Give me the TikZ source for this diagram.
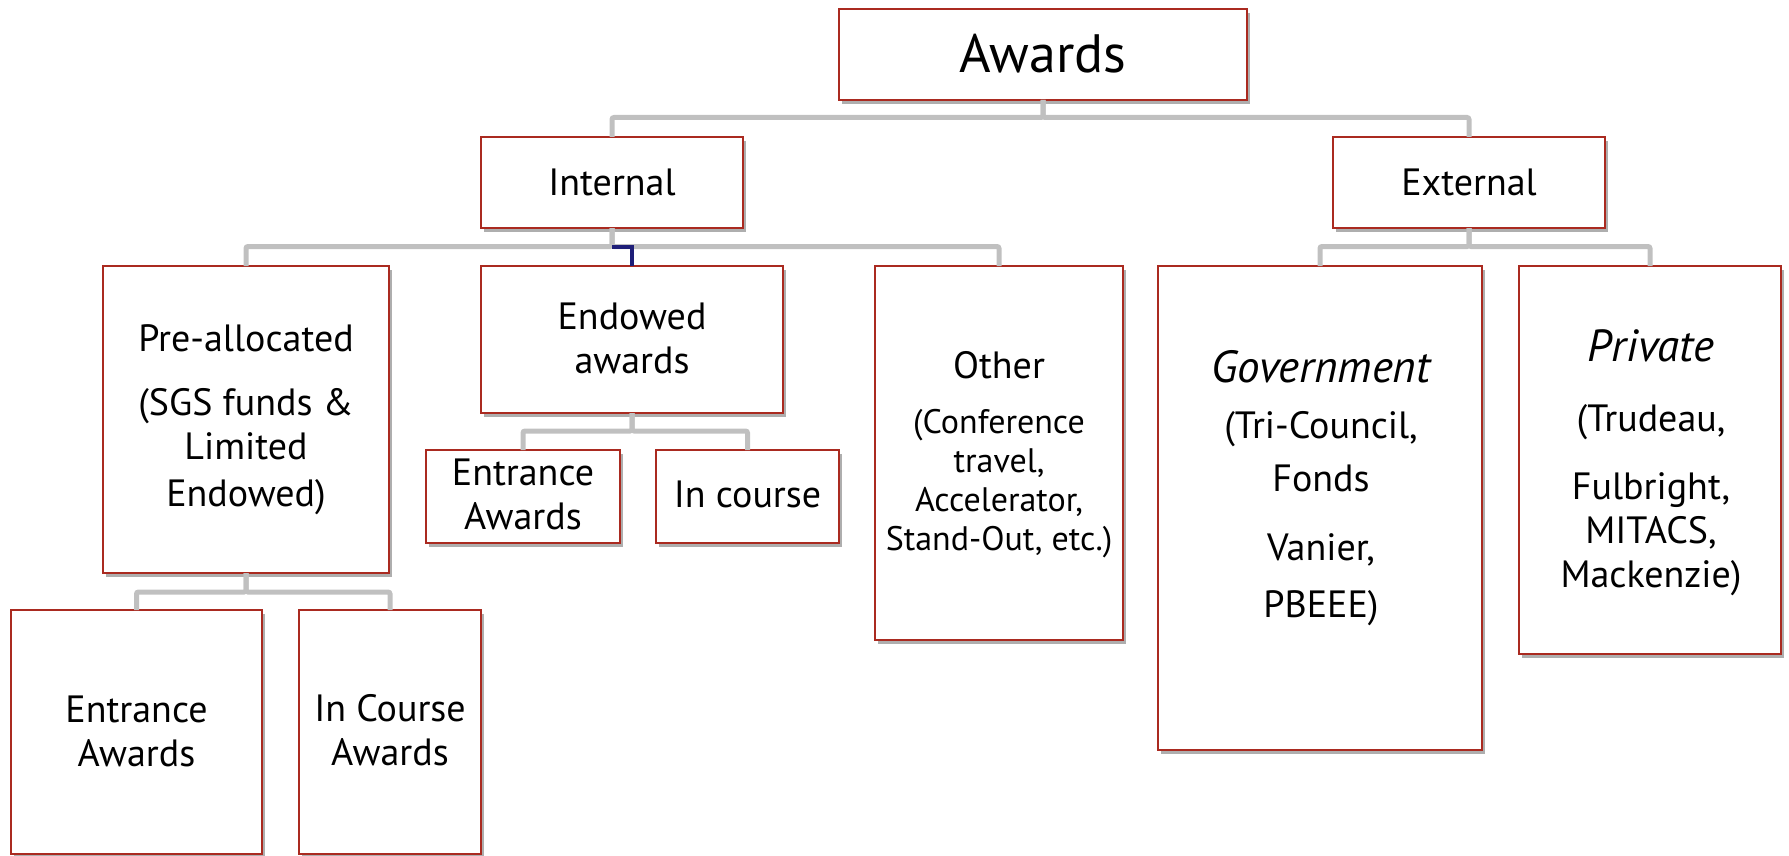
\documentclass[tikz,border=0pt]{standalone}
\usepackage{fontspec}
\setmainfont{PT Sans}
\usetikzlibrary{shadows}
\definecolor{boxred}{RGB}{170,42,32}
\definecolor{conngray}{RGB}{192,192,192}
\definecolor{bracketblue}{RGB}{30,30,120}
\tikzset{
  box/.style={draw=boxred, line width=1.4pt, fill=white, rectangle, inner sep=0pt, outer sep=0pt,
    drop shadow={shadow xshift=1.5pt, shadow yshift=-2pt, opacity=0.45, fill=black!70}},
  txt/.style={align=center, inner sep=0pt, font=\fontsize{19}{22}\selectfont},
  smalltxt/.style={align=center, inner sep=0pt, font=\fontsize{17}{19.5}\selectfont},
  conn/.style={draw=conngray, line width=2.5pt, rounded corners=1pt},
  blueconn/.style={draw=bracketblue, line width=2pt},
}
\newcommand{\ittitle}[1]{{\fontsize{22.5}{22}\selectfont\itshape #1}}
\begin{document}
\begin{tikzpicture}[x=0.5pt,y=-0.5pt]
\useasboundingbox (0,0) rectangle (1789,856);
% bus coordinates
\coordinate (busA) at (0,117.5);
\coordinate (busB) at (0,246.5);
\coordinate (busC) at (0,431);
\coordinate (busD) at (0,592);

% boxes
\node[box, minimum width=204pt, minimum height=45.5pt] (awards) at (1043,54.5) {};
\node[box, minimum width=131pt, minimum height=45.5pt] (internal) at (612,182.5) {};
\node[box, minimum width=136pt, minimum height=45.5pt] (external) at (1469,182.5) {};
\node[box, minimum width=143pt, minimum height=153.5pt] (prealloc) at (246,419.5) {};
\node[box, minimum width=151pt, minimum height=73.5pt] (endowed) at (632,339.5) {};
\node[box, minimum width=124pt, minimum height=187pt] (other) at (999,453) {};
\node[box, minimum width=162pt, minimum height=242pt] (gov) at (1320,508) {};
\node[box, minimum width=131pt, minimum height=194pt] (private) at (1650,460) {};
\node[box, minimum width=97pt, minimum height=46.5pt] (entrA) at (523,496.5) {};
\node[box, minimum width=91.5pt, minimum height=46.5pt] (incA) at (747.5,496.5) {};
\node[box, minimum width=125.5pt, minimum height=122pt] (entrB) at (136.5,732) {};
\node[box, minimum width=91pt, minimum height=122pt] (incB) at (390,732) {};

% connectors
\draw[conn] (awards.south) -- (awards.south |- busA) -| (internal.north);
\draw[conn] (awards.south) -- (awards.south |- busA) -| (external.north);
\draw[conn] (internal.south) -- (internal.south |- busB) -| (prealloc.north);
\draw[conn] (internal.south) -- (internal.south |- busB) -| (other.north);
\draw[conn] (external.south) -- (external.south |- busB) -| (gov.north);
\draw[conn] (external.south) -- (external.south |- busB) -| (private.north);
\draw[conn] (endowed.south) -- (endowed.south |- busC) -| (entrA.north);
\draw[conn] (endowed.south) -- (endowed.south |- busC) -| (incA.north);
\draw[conn] (prealloc.south) -- (prealloc.south |- busD) -| (entrB.north);
\draw[conn] (prealloc.south) -- (prealloc.south |- busD) -| (incB.north);
\draw[blueconn] (internal.south |- busB) -| (endowed.north);

% texts
\node[txt, font=\fontsize{27}{30}\selectfont] (tAwards) at (1043,53.6) {Awards};
\node[txt] (tInternal) at (612,182.6) {Internal};
\node[txt] (tExternal) at (1469,182.6) {External};
\node[txt] (tPre) at (246,419.5) {Pre-allocated\\[10pt](SGS funds \&\\Limited\\[1.5pt]Endowed)};
\node[txt] (tEnd) at (632,338.5) {Endowed\\awards};
\node[txt] (tOther) at (999,365) {Other};
\node[smalltxt] (tOtherD) at (999,484) {(Conference\\travel,\\Accelerator,\\Stand-Out, etc.)};
\node[txt] (tGov) at (1321,488.5) {\ittitle{Government}\\[6pt](Tri-Council,\\[4.5pt]Fonds\\[12.5pt]Vanier,\\[6.5pt]PBEEE)};
\node[txt] (tPriv) at (1651,463) {\ittitle{Private}\\[13pt](Trudeau,\\[12pt]Fulbright,\\MITACS,\\Mackenzie)};
\node[txt] (tEntrA) at (523,494) {Entrance\\Awards};
\node[txt] (tIncA) at (747.5,494) {In course};
\node[txt] (tEntrB) at (136.5,731.5) {Entrance\\Awards};
\node[txt] (tIncB) at (390,730.5) {In Course\\Awards};
\end{tikzpicture}
\end{document}
